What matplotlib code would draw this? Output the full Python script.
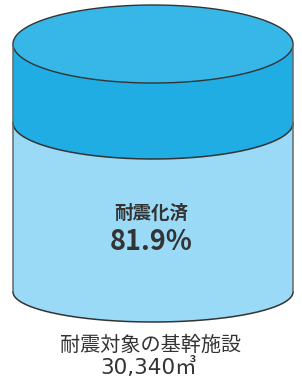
import matplotlib
matplotlib.use('Agg')
import matplotlib.pyplot as plt
from matplotlib.patches import Polygon
import numpy as np

plt.rcParams['font.family'] = ['Noto Sans CJK JP', 'DejaVu Sans']

# data
done_label = '耐震化済'
done_rate = 81.9
total_label = '耐震対象の基幹施設'
total_area = 30340
area_unit = '㎥'

# cylinder geometry (pixels)
cx, rx = 153, 140
top_cy, top_ry = 44, 39
mid_cy, mid_ry = 123, 36
bot_cy, bot_ry = 292, 30

c_top = '#37b7e7'
c_band = '#1fade3'
c_low = '#9bdaf6'
c_line = '#333333'
c_side = '#666666'


def half_ellipse(cy, ry, n=200, lower=True):
    t = np.linspace(np.pi, 2 * np.pi, n)
    x = cx + rx * np.cos(t)
    y = cy - ry * np.sin(t) if lower else cy + ry * np.sin(t)
    return x, y


fig = plt.figure(figsize=(3.02, 3.79), dpi=100)
ax = fig.add_axes([0, 0, 1, 1])
ax.set_xlim(0, 302)
ax.set_ylim(379, 0)
ax.axis('off')

# lower (filled) part
xm, ym = half_ellipse(mid_cy, mid_ry)
xb, yb = half_ellipse(bot_cy, bot_ry)
pts = np.vstack([np.column_stack([xm, ym]), np.column_stack([xb[::-1], yb[::-1]])])
ax.add_patch(Polygon(pts, closed=True, facecolor=c_low, edgecolor='none'))

# band (unfilled) part
xt, yt = half_ellipse(top_cy, top_ry)
pts = np.vstack([np.column_stack([xt, yt]), np.column_stack([xm[::-1], ym[::-1]])])
ax.add_patch(Polygon(pts, closed=True, facecolor=c_band, edgecolor='none'))

# top ellipse
t = np.linspace(0, 2 * np.pi, 400)
ax.add_patch(Polygon(np.column_stack([cx + rx * np.cos(t), top_cy + top_ry * np.sin(t)]),
                     closed=True, facecolor=c_top, edgecolor=c_line, lw=1.0))

# outlines
ax.plot(xm, ym, color=c_line, lw=1.1)
ax.plot(xb, yb, color=c_line, lw=1.1)
ax.plot([cx - rx, cx - rx], [top_cy, bot_cy], color=c_side, lw=1.1)
ax.plot([cx + rx, cx + rx], [top_cy, bot_cy], color=c_side, lw=1.1)

ax.text(151, 213, done_label, ha='center', va='center', fontsize=13.3,
        fontweight='bold', color='#333333')
ax.text(151, 242, f'{done_rate:.1f}%', ha='center', va='center', fontsize=19.5,
        fontweight='bold', color='#333333')

ax.text(151, 345, total_label, ha='center', va='center', fontsize=14.5,
        color='#333333')
ax.text(149, 368, f'{total_area:,}{area_unit}', ha='center', va='center',
        fontsize=15.5, color='#333333', family=['DejaVu Sans', 'Noto Sans CJK JP'])

fig.savefig('out.png', dpi=100)
